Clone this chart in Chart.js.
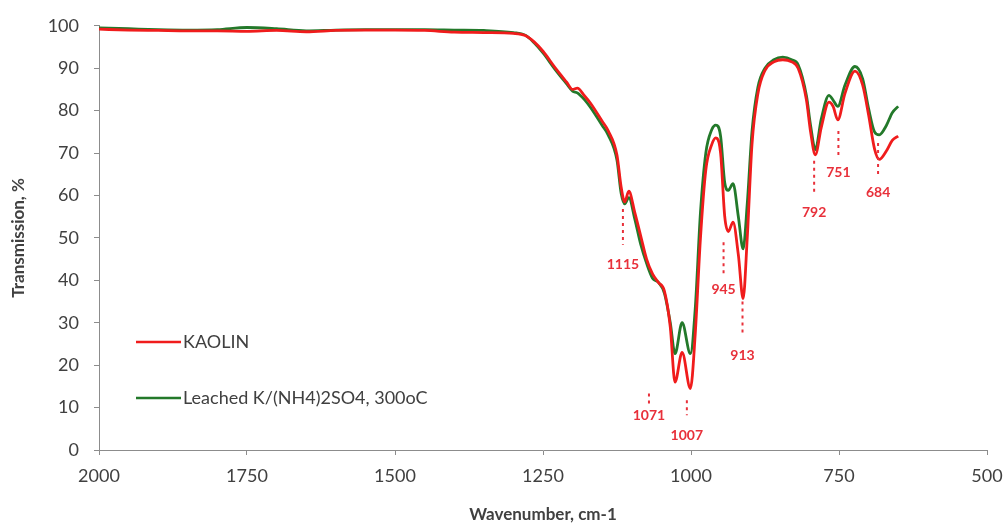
<!DOCTYPE html>
<html>
<head>
<meta charset="utf-8">
<script src="https://cdn.jsdelivr.net/npm/chart.js@4.4.1/dist/chart.umd.min.js"></script>
<style>
  html, body { margin: 0; padding: 0; background: #fff; }
  #grafico { display: block; }
</style>
</head>
<body>
<canvas id="grafico" width="1008" height="526"></canvas>
<script>
const wavenumber = [2000, 1950, 1900, 1850, 1800, 1750, 1700, 1650, 1600, 1550,
  1500, 1450, 1400, 1350, 1300, 1280, 1265, 1250, 1230, 1210,
  1200, 1192, 1180, 1170, 1150, 1140, 1125, 1118, 1112, 1105,
  1095, 1085, 1075, 1065, 1055, 1045, 1035, 1027, 1015, 1001,
  993, 984, 975, 965, 958, 950, 943, 937, 929, 920,
  912, 905, 897, 887, 875, 860, 845, 830, 819, 805,
  798, 790, 780, 767, 760, 752, 740, 723, 710, 700,
  690, 682, 670, 660, 650]

const kaolin = [99.2, 99.0, 98.9, 98.8, 98.8, 98.7, 98.9, 98.6, 98.9, 99.0,
  99.0, 98.9, 98.5, 98.4, 98.2, 97.7, 96.2, 94.0, 90.2, 86.7,
  85.0, 85.3, 83.5, 81.8, 77.5, 75.3, 69.5, 62.0, 58.5, 61.0,
  56.0, 50.5, 45.0, 41.5, 39.5, 37.5, 29.0, 16.0, 23.0, 14.5,
  27.0, 50.0, 66.0, 72.0, 73.6, 70.0, 55.0, 51.5, 53.7, 46.0,
  35.7, 50.0, 72.0, 84.0, 89.5, 91.5, 92.0, 91.5, 90.0, 82.5,
  75.0, 69.6, 76.0, 82.0, 81.0, 77.8, 84.0, 89.3, 86.0, 79.0,
  71.0, 68.5, 70.5, 73.0, 74.0]

const leached = [99.5, 99.3, 99.1, 99.0, 99.1, 99.6, 99.3, 98.8, 99.0, 99.1,
  99.1, 99.1, 99.0, 98.9, 98.4, 97.8, 96.0, 93.6, 89.8, 86.3,
  84.6, 84.2, 82.6, 80.8, 76.5, 74.3, 68.3, 60.5, 58.0, 59.5,
  54.5, 48.5, 44.0, 40.5, 39.5, 37.0, 30.0, 22.7, 30.0, 22.7,
  33.0, 56.0, 70.0, 75.5, 76.6, 74.0, 63.0, 61.2, 62.8, 55.0,
  47.4, 58.0, 75.0, 85.5, 90.0, 92.0, 92.6, 92.0, 90.8, 83.5,
  76.5, 70.8, 78.0, 83.6, 82.5, 81.0, 86.0, 90.4, 87.5, 80.5,
  75.0, 74.3, 76.5, 79.5, 81.0]

// marked bands: dashed segment (top/bottom, % T) and where the number sits
const peaks = [1115, 1071, 1007, 945, 913, 792, 751, 684]
const peakTop = [56.8, 13.3, 11.7, 49.0, 35.0, 68.2, 75.2, 72.4]
const peakBottom = [48.4, 10.5, 8.2, 41.4, 26.9, 60.3, 69.4, 64.3]
const peakLabelY = [43.7, 8.2, 3.5, 37.9, 22.2, 56.0, 65.4, 60.7]

const seriesNames = ['KAOLIN', 'Leached K/(NH4)2SO4, 300oC']

const fonte = 'Lato, "DejaVu Sans", sans-serif'
const corTexto = '#404040'
const corEixo = '#8c8c8c'

const pontos = (valores) => wavenumber.map((w, i) => ({ x: w, y: valores[i] }))

// peak markers in red, drawn above the curves
const picosPlugin = {
  id: 'picos',
  afterDatasetsDraw(chart) {
    const ctx = chart.ctx
    const x = chart.scales.x
    const y = chart.scales.y
    ctx.save()
    ctx.strokeStyle = '#e8303a'
    ctx.fillStyle = '#e8303a'
    ctx.lineWidth = 2
    ctx.setLineDash([3, 4])
    ctx.font = 'bold 14px ' + fonte
    ctx.textAlign = 'center'
    ctx.textBaseline = 'middle'
    peaks.forEach((p, i) => {
      const px = x.getPixelForValue(p)
      ctx.beginPath()
      ctx.moveTo(px, y.getPixelForValue(peakTop[i]))
      ctx.lineTo(px, y.getPixelForValue(peakBottom[i]))
      ctx.stroke()
      ctx.fillText(String(p), px, y.getPixelForValue(peakLabelY[i]))
    })
    ctx.restore()
  }
}

// legend sits inside the plot, lower left
const legendaPlugin = {
  id: 'legenda',
  afterDraw(chart) {
    const ctx = chart.ctx
    ctx.save()
    chart.data.datasets.forEach((ds, i) => {
      const ly = 342 + i * 56
      ctx.strokeStyle = ds.borderColor
      ctx.lineWidth = 2.5
      ctx.beginPath()
      ctx.moveTo(136, ly)
      ctx.lineTo(181, ly)
      ctx.stroke()
      ctx.fillStyle = corTexto
      ctx.font = '18px ' + fonte
      ctx.textAlign = 'left'
      ctx.textBaseline = 'middle'
      ctx.fillText(ds.label, 183, ly)
    })
    ctx.restore()
  }
}

const grafico = document.getElementById('grafico').getContext('2d')

new Chart(grafico, {
  type: 'line',
  data: {
    datasets: [{
      label: seriesNames[0],
      data: pontos(kaolin),
      borderColor: '#f01c1c',
      borderWidth: 2.8,
      pointRadius: 0,
      cubicInterpolationMode: 'monotone'
    }, {
      label: seriesNames[1],
      data: pontos(leached),
      borderColor: '#23792a',
      borderWidth: 2.8,
      pointRadius: 0,
      cubicInterpolationMode: 'monotone'
    }]
  },
  options: {
    responsive: false,
    animation: false,
    layout: { padding: { left: 0, right: 21, top: 22, bottom: 0 } },
    plugins: {
      legend: { display: false },
      tooltip: { enabled: false }
    },
    scales: {
      x: {
        type: 'linear',
        reverse: true,
        min: 500,
        max: 2000,
        afterFit: (s) => {
          s.height = 76
          s.paddingLeft = 0
          s.paddingRight = 0
        },
        border: { display: true, color: corEixo, width: 1 },
        grid: { drawOnChartArea: false, drawTicks: true, tickLength: 5, color: corEixo },
        ticks: {
          stepSize: 250,
          padding: 10,
          color: corTexto,
          font: { family: fonte, size: 18 },
          callback: (v) => String(v)
        },
        title: {
          display: true,
          text: 'Wavenumber, cm-1',
          color: corTexto,
          font: { family: fonte, size: 17, weight: 'bold' },
          padding: { top: 0, bottom: 1 }
        }
      },
      y: {
        min: 0,
        max: 100,
        afterFit: (s) => { s.width = 99 },
        border: { display: true, color: corEixo, width: 1 },
        grid: { drawOnChartArea: false, drawTicks: true, tickLength: 5, color: corEixo },
        ticks: { stepSize: 10, padding: 15, color: corTexto, font: { family: fonte, size: 18 } },
        title: {
          display: true,
          text: 'Transmission, %',
          color: corTexto,
          font: { family: fonte, size: 17, weight: 'bold' },
          padding: { top: 8, bottom: 0 }
        }
      }
    }
  },
  plugins: [picosPlugin, legendaPlugin]
})
</script>
</body>
</html>
